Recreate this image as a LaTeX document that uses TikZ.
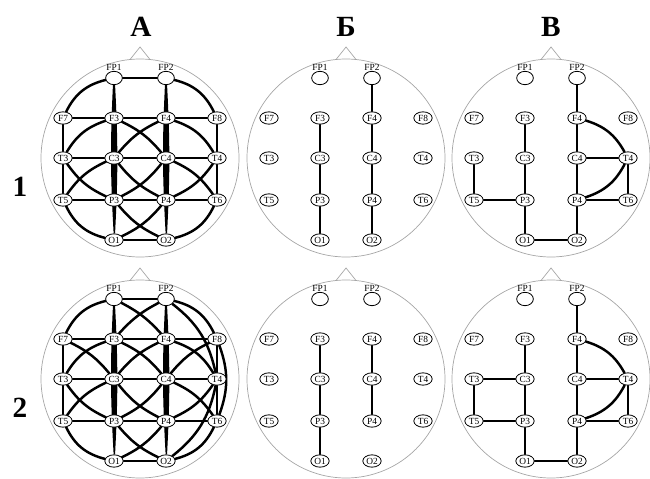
\documentclass[tikz,border=0pt]{standalone}
\usepackage{fontspec}
\setmainfont{Liberation Serif}
\usetikzlibrary{shapes.geometric,backgrounds,positioning}
\tikzset{
  headline/.style={draw=gray!70,line width=0.6pt},
  elec/.style={ellipse,draw=black,line width=0.7pt,fill=white,inner sep=0pt,minimum width=0.55cm,minimum height=0.37cm,font=\fontsize{8}{8}\selectfont},
  fpelec/.style={elec,minimum width=0.5cm,minimum height=0.4cm},
  fplabel/.style={font=\fontsize{8}{8}\selectfont,inner sep=0.3pt},
  link/.style={line width=2.1pt,line cap=round},
  lens/.style={line width=1.2pt,fill=black},
  title/.style={font=\bfseries\fontsize{25}{25}\selectfont}
}
% one head: #1 x, #2 y, #3 name prefix
\newcommand{\eeghead}[3]{%
  \draw[headline] (#1,#2) circle[radius=2.97cm];
  \draw[headline] (#1-10,#2-98.5) -- (#1,#2-111) -- (#1+10,#2-98.5);
  \node[fpelec] (#3FP1) at (#1-26,#2-80) {};
  \node[fpelec] (#3FP2) at (#1+26,#2-80) {};
  \node[fplabel,above=0pt of #3FP1] {FP1};
  \node[fplabel,above=0pt of #3FP2] {FP2};
  \foreach \n/\dx/\dy in {F7/-77/-40,F3/-26/-40,F4/26/-40,F8/77/-40,
      T3/-77/0,C3/-26/0,C4/26/0,T4/77/0,
      T5/-77/42,P3/-26/42,P4/26/42,T6/77/42,O1/-26/82,O2/26/82}
    \node[elec] (#3\n) at ({#1+\dx},{#2+\dy}) {\n};
}
% dense network of column A
\newcommand{\fullnet}[1]{%
  \draw[link] (#1FP1) -- (#1FP2);
  \draw[link] (#1F7) to[bend left=25] (#1FP1);
  \draw[link] (#1FP2) to[bend left=25] (#1F8);
  \foreach \a/\b in {F7/F3,F3/F4,F4/F8,T3/C3,C3/C4,C4/T4,T5/P3,P3/P4,P4/T6,O1/O2,F7/T3,T3/T5,F8/T4,T4/T6}
    \draw[link] (#1\a) -- (#1\b);
  \foreach \a/\b in {FP1/O1,FP2/O2}
    \filldraw[lens] (#1\a) to[bend left=3] (#1\b) to[bend left=3] (#1\a);
  \draw[link] (#1O1) to[bend left=25] (#1T5);
  \draw[link] (#1T6) to[bend left=25] (#1O2);
  \draw[link] (#1T3) to[bend left=20] (#1F3);
  \draw[link] (#1F4) to[bend left=20] (#1T4);
  \draw[link] (#1F3) to[bend left=12] (#1C4);
  \draw[link] (#1F4) to[bend right=12] (#1C3);
  \draw[link] (#1C3) to[bend right=12] (#1P4);
  \draw[link] (#1C4) to[bend left=12] (#1P3);
  \draw[link] (#1T3) to[bend right=15] (#1P3);
  \draw[link] (#1C3) to[bend right=15] (#1T5);
  \draw[link] (#1C4) to[bend left=15] (#1T6);
  \draw[link] (#1T4) to[bend left=15] (#1P4);
  \draw[link] (#1P3) to[bend right=12] (#1O2);
  \draw[link] (#1P4) to[bend left=12] (#1O1);
}
% sparse network of column V
\newcommand{\sparsenet}[1]{%
  \foreach \a/\b in {FP2/F4,F4/C4,C4/P4,P4/O2,F3/C3,C3/P3,P3/O1,T3/T5,T5/P3,O1/O2,C4/T4,T4/T6,P4/T6}
    \draw[link] (#1\a) -- (#1\b);
  \draw[link] (#1F4) to[bend left=22] (#1T4);
  \draw[link] (#1T4) to[bend left=22] (#1P4);
}

\begin{document}
\begin{tikzpicture}[x=0.03cm,y=-0.03cm]
  \useasboundingbox (0,0) rectangle (650,478);
  \node[title] (ha) at (141,27) {А};
  \node[title] (hb) at (346,27) {Б};
  \node[title] (hv) at (551,27) {В};
  \node[title] (r1) at (20,187) {1};
  \node[title] (r2) at (20,408) {2};

  \eeghead{140}{158}{a1}
  \eeghead{346}{158}{b1}
  \eeghead{551}{158}{v1}
  \eeghead{140}{379}{a2}
  \eeghead{346}{379}{b2}
  \eeghead{551}{379}{v2}

  \begin{scope}[on background layer]
    % row 1
    \fullnet{a1}
    \foreach \a/\b in {FP2/F4,F4/C4,C4/P4,P4/O2,F3/C3,C3/P3,P3/O1}
      \draw[link] (b1\a) -- (b1\b);
    \sparsenet{v1}
    % row 2
    \fullnet{a2}
    \draw[link] (a2FP1) to[bend left=10] (a2F4);
    \draw[link] (a2FP2) to[bend right=10] (a2F3);
    \draw[link] (a2F7) to[bend left=12] (a2C3);
    \draw[link] (a2F8) to[bend right=12] (a2C4);
    \draw[link] (a2FP2) to[bend left=20] (a2T4);
    \draw[link] (a2F8) to[bend left=20] (a2T6);
    \draw[link] (a2T4) to[bend left=20] (a2O2);
    \foreach \a/\b in {F3/C3,C3/P3,P3/O1,F4/C4,C4/P4}
      \draw[link] (b2\a) -- (b2\b);
    \sparsenet{v2}
    \draw[link] (v2T3) -- (v2C3);
  \end{scope}
\end{tikzpicture}
\end{document}
